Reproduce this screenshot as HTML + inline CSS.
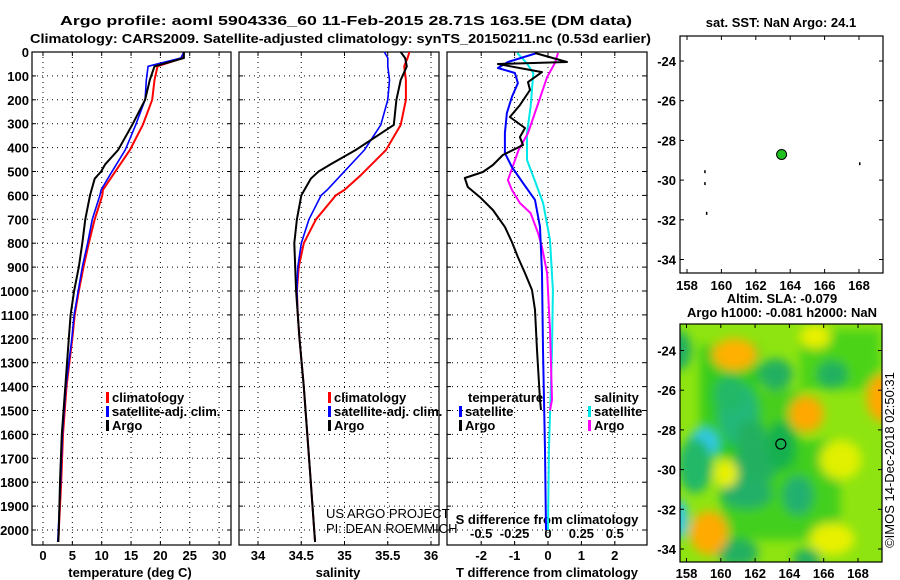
<!DOCTYPE html>
<html><head><meta charset="utf-8"><style>
body{margin:0;background:#fff}
svg{display:block;font-family:"Liberation Sans",sans-serif}
.t{font-weight:bold;font-size:13px}
</style></head><body>
<svg id="s" width="900" height="580" viewBox="0 0 900 580">
<defs>
<clipPath id="c1"><rect x="32" y="52" width="199" height="493"/></clipPath>
<clipPath id="c2"><rect x="239" y="52" width="200" height="493"/></clipPath>
<clipPath id="c3"><rect x="447" y="52" width="200" height="493"/></clipPath>
<clipPath id="cm"><rect x="680" y="324" width="202" height="238"/></clipPath>
<filter id="bl" x="-50%" y="-50%" width="200%" height="200%"><feGaussianBlur stdDeviation="5"/></filter>
</defs>
<text class="t" x="60" y="25" font-size="15" textLength="572" lengthAdjust="spacingAndGlyphs">Argo profile: aoml 5904336_60 11-Feb-2015 28.71S 163.5E (DM data)</text>
<text class="t" x="30" y="43" font-size="15" textLength="621" lengthAdjust="spacingAndGlyphs">Climatology: CARS2009. Satellite-adjusted climatology: synTS_20150211.nc (0.53d earlier)</text>
<g id="g"></g>
</svg>
<script>
// ---- data ----
const depthTicks=[0,100,200,300,400,500,600,700,800,900,1000,1100,1200,1300,1400,1500,1600,1700,1800,1900,2000];
const tTicks=[0,5,10,15,20,25,30];
const sTicks=[34,34.5,35,35.5,36];
const dTTicks=[-2,-1,0,1,2];
const dSTicks=[-0.5,-0.25,0,0.25,0.5];
const lonTicks=[158,160,162,164,166,168];
const latTicks=[-24,-26,-28,-30,-32,-34];
const argoDepth=[0,25,60,117,200,305,410,470,500,530,600,700,800,900,1000,1100,1200,1400,1600,1800,2000,2050];
const argoTemp=[24,24,19,18.2,17.4,15.2,12.8,10.6,9.9,8.8,8.0,7.2,6.7,6.1,5.3,4.7,4.4,3.8,3.2,2.9,2.7,2.6];
const argoSal=[35.65,35.7,35.72,35.65,35.6,35.57,35.13,34.84,34.7,34.61,34.5,34.45,34.42,34.43,34.44,34.46,34.48,34.53,34.57,34.61,34.65,34.66];
const climDepth=[0,25,60,117,200,305,410,515,577,600,700,800,900,1000,1100,1200,1400,1600,1800,2000,2050];
const climTemp=[24,23.8,19.5,19,18.6,17,14.8,11.9,10.2,10.1,8.8,7.8,6.9,6.1,5.4,5.0,4.0,3.4,3.1,2.7,2.6];
const climSal=[35.75,35.73,35.69,35.71,35.71,35.65,35.48,35.19,35.0,34.9,34.67,34.53,34.47,34.45,34.46,34.48,34.53,34.57,34.61,34.65,34.66];
const satTemp=[24,23.5,17.9,17.6,17.4,15.8,14,11.4,9.9,9.7,8.4,7.6,6.7,6.0,5.3,4.9,3.9,3.3,3.0,2.6,2.5];
const satSal=[35.46,35.5,35.5,35.52,35.5,35.42,35.23,34.96,34.8,34.73,34.59,34.5,34.46,34.45,34.46,34.48,34.53,34.57,34.61,34.65,34.66];
const dArgoTDepth=[4,42,50,84,126,159,222,272,318,356,389,431,473,502,527,565,607,661,732,795,858,925,996,1079,1247,1456,1498];
const dArgoT=[-0.39,0.57,-1.5,-0.18,-0.6,-0.54,-0.84,-1.14,-0.69,-0.84,-0.75,-1.35,-1.65,-1.95,-2.49,-2.4,-2.04,-1.65,-1.29,-1.08,-0.9,-0.69,-0.48,-0.39,-0.33,-0.24,-0.21];
const dSatTDepth=[4,42,67,88,130,188,255,339,423,481,548,619,732,925,1247,1665,2000];
const dSatT=[-0.33,-1.2,-1.5,-0.99,-0.9,-1.08,-1.23,-1.29,-1.29,-1.08,-0.75,-0.39,-0.24,-0.18,-0.15,-0.09,-0.06];
const dArgoSDepth=[4,46,105,193,339,410,536,577,632,674,757,816,925,1163,1456,1500];
const dArgoS=[0.075,0.052,-0.007,-0.06,-0.15,-0.22,-0.3,-0.27,-0.21,-0.13,-0.075,-0.045,-0.007,0.015,0.03,0.015];
const dSatSDepth=[4,46,88,230,339,452,536,632,787,996,1247,1665,2000];
const dSatS=[-0.23,-0.16,-0.11,-0.13,-0.157,-0.157,-0.1,-0.037,0.015,0.037,0.03,0.007,0];
const floatLon=[163.5], floatLat=[-28.71];
// SLA blobs: lon, lat, rx(deg), ry(deg), color
const blobLon=[161,159,162,161.5,164.5,163.2,166.5,157.6,157.5,161,165,160.8,165,169.5,159.3,165.5,166.5,160.3,167,163.5,160.5,161.8,158.5];
const blobLat=[-27.2,-28.7,-29.8,-31.2,-31.3,-25.2,-25.2,-32.5,-24,-34.2,-34.5,-24.2,-27.2,-26.4,-33.2,-23.3,-33.5,-30.2,-29.5,-28.8,-26.2,-28.5,-29.8];
const blobRx=[1.2,0.9,1.3,1.5,0.9,1.0,0.9,0.5,0.8,1.2,0.8,1.3,1.0,1.0,1.1,0.9,1.3,0.7,1.2,0.8,0.9,0.9,1.0];
const blobRy=[1.6,0.8,1.0,0.8,1.0,0.8,0.7,1.0,1.0,0.7,0.5,0.8,0.9,1.2,1.1,0.6,0.8,0.7,1.0,1.2,0.9,1.0,1.4];
const blobCol=["#22b878","#30c8e8","#20b060","#20b068","#20b070","#20b060","#20b060","#30c8e8","#20b060","#20b060","#20b060","#ffb000","#ffa800","#ffa800","#ffaa00","#e8f000","#e8f000","#e8f000","#e0f000","#18b050","#20b868","#22b060","#22b868"];

// ---- helpers ----
const NS='http://www.w3.org/2000/svg', G=document.getElementById('g');
function el(t,a,p){const e=document.createElementNS(NS,t);for(const k in a)e.setAttribute(k,a[k]);(p||G).appendChild(e);return e;}
const yD=d=>52+d*0.239;
const xT=v=>43+v*5.87, xS=v=>258+(v-34)*86.5, xDT=v=>548+v*33.4, xDS=v=>548+v*133.6;
const m1x=l=>687+(l-158)*17.2, m1y=l=>61+(-24-l)*19.85;
const m2x=l=>686.5+(l-158)*17.15, m2y=l=>350.5+(-24-l)*19.85;

function panel(x0,w,name){
  const b=el('rect',{x:x0,y:52,width:w,height:493,fill:'none',stroke:'#000','stroke-width':1.2});
  
  
  depthTicks.forEach(d=>{const l=el('line',{x1:x0,x2:x0+w,y1:yD(d),y2:yD(d),stroke:'#000','stroke-dasharray':'1,4','stroke-width':1});
    
    el('line',{x1:x0,x2:x0+4,y1:yD(d),y2:yD(d),stroke:'#000'});el('line',{x1:x0+w-4,x2:x0+w,y1:yD(d),y2:yD(d),stroke:'#000'});});
}
function vgrid(ticks,fx,labY,fmt,name){
  ticks.forEach(v=>{const x=fx(v);
    const l=el('line',{x1:x,x2:x,y1:52,y2:545,stroke:'#000','stroke-dasharray':'1,4'});
    
    el('line',{x1:x,x2:x,y1:545,y2:541,stroke:'#000'});el('line',{x1:x,x2:x,y1:52,y2:56,stroke:'#000'});
    const t=el('text',{x:x,y:labY,'text-anchor':'middle',class:'t'});t.textContent=fmt(v);
    });
}
function line(xs,ds,fx,col,w,clip,name){
  const pts=xs.map((v,i)=>fx(v).toFixed(1)+','+yD(ds[i]).toFixed(1)).join(' ');
  const p=el('polyline',{points:pts,fill:'none',stroke:col,'stroke-width':w,'clip-path':'url(#'+clip+')','stroke-linejoin':'round'});
  
}
function txt(x,y,s,name,extra){const t=el('text',Object.assign({x:x,y:y,class:'t'},extra||{}));t.textContent=s;
  return t;}
function leg(x,y,col,s,name){el('rect',{x:x,y:y-10,width:3,height:11,fill:col});txt(x+6,y,s,name);}

// depth axis labels
depthTicks.forEach(d=>{const t=el('text',{x:29,y:yD(d)+5,'text-anchor':'end',class:'t'});t.textContent=d;
  });

// panel 1 temperature
panel(32,199,'temperature-panel');
vgrid(tTicks,xT,560,v=>v,'temperature');
line(climTemp,climDepth,xT,'#f00',2,'c1','climatology-temperature-line');
line(satTemp,climDepth,xT,'#00f',1.6,'c1','satellite-temperature-line');
line(argoTemp,argoDepth,xT,'#000',2,'c1','argo-temperature-line');
txt(130,577,'temperature (deg C)','temperature-axis-title',{'text-anchor':'middle'});
leg(106,402,'#f00','climatology','legend-climatology');
leg(106,416,'#00f','satellite-adj. clim.','legend-satellite');
leg(106,430,'#000','Argo','legend-argo');

// panel 2 salinity
panel(239,200,'salinity-panel');
vgrid(sTicks,xS,560,v=>v,'salinity');
line(climSal,climDepth,xS,'#f00',2,'c2','climatology-salinity-line');
line(satSal,climDepth,xS,'#00f',1.6,'c2','satellite-salinity-line');
line(argoSal,argoDepth,xS,'#000',2,'c2','argo-salinity-line');
txt(338,577,'salinity','salinity-axis-title',{'text-anchor':'middle'});
leg(328,402,'#f00','climatology','legend-climatology-2');
leg(328,416,'#00f','satellite-adj. clim.','legend-satellite-2');
leg(328,430,'#000','Argo','legend-argo-2');
txt(326,518,'US ARGO PROJECT','credit-project',{style:'font-weight:normal'});
txt(326,533,'PI: DEAN ROEMMICH','credit-pi',{style:'font-weight:normal'});

// panel 3 differences
panel(447,200,'difference-panel');
vgrid(dTTicks,xDT,560,v=>v,'t-difference');
dSTicks.forEach(v=>{const t=el('text',{x:xDS(v),y:538,'text-anchor':'middle',class:'t'});
  t.textContent=(v===0?'0':(v<0?'-':'')+'0'+String(Math.abs(v)).slice(1));
  });
txt(547,524,'S difference from climatology','s-difference-title',{'text-anchor':'middle'});
line(dSatS,dSatSDepth,xDS,'#00e8e8',2,'c3','satellite-salinity-diff-line');
line(dArgoS,dArgoSDepth,xDS,'#f0f',2,'c3','argo-salinity-diff-line');
line(dSatT,dSatTDepth,xDT,'#00f',2,'c3','satellite-temperature-diff-line');
line(dArgoT,dArgoTDepth,xDT,'#000',2,'c3','argo-temperature-diff-line');
txt(547,577,'T difference from climatology','t-difference-title',{'text-anchor':'middle'});
txt(468,402,'temperature','legend-temperature-heading');
txt(594,402,'salinity','legend-salinity-heading');
leg(459,416,'#00f','satellite','legend-t-satellite');
leg(459,430,'#000','Argo','legend-t-argo');
leg(588,416,'#00e8e8','satellite','legend-s-satellite');
leg(588,430,'#f0f','Argo','legend-s-argo');

// map 1
txt(781,27,'sat. SST: NaN Argo: 24.1','sst-map-title',{'text-anchor':'middle'});
const f1=el('rect',{x:680,y:36,width:203,height:237,fill:'#fff',stroke:'#000','stroke-width':1.2});

latTicks.forEach(l=>{el('line',{x1:680,x2:684,y1:m1y(l),y2:m1y(l),stroke:'#000'});el('line',{x1:879,x2:883,y1:m1y(l),y2:m1y(l),stroke:'#000'});
  txt(676,m1y(l)+5,l,'sst-map-lat-label',{'text-anchor':'end'});});
lonTicks.forEach(l=>{el('line',{x1:m1x(l),x2:m1x(l),y1:36,y2:40,stroke:'#000'});el('line',{x1:m1x(l),x2:m1x(l),y1:269,y2:273,stroke:'#000'});
  txt(m1x(l),290,l,'sst-map-lon-label',{'text-anchor':'middle'});});
[[159,-29.5],[159,-30.1],[159.1,-31.6],[168,-29.1]].forEach(p=>el('rect',{x:m1x(p[0]),y:m1y(p[1]),width:1.5,height:3,fill:'#000'}));
floatLon.forEach((l,i)=>{const c=el('circle',{cx:m1x(l),cy:m1y(floatLat[i]),r:5,fill:'#20c020',stroke:'#000'});
  });

// map 2
txt(782,303,'Altim. SLA: -0.079','sla-title',{'text-anchor':'middle'});
txt(782,317,'Argo h1000: -0.081 h2000: NaN','argo-height-title',{'text-anchor':'middle'});
const mg=el('g',{'clip-path':'url(#cm)'});
el('rect',{x:680,y:324,width:202,height:238,fill:'#8ee410'},mg);
const bg=el('g',{filter:'url(#bl)'},mg);
el('rect',{x:700,y:345,width:60,height:110,fill:'#22c622',opacity:0.8},bg);
el('rect',{x:720,y:440,width:120,height:100,fill:'#22c622',opacity:0.7},bg);
el('rect',{x:800,y:330,width:80,height:60,fill:'#30cc20',opacity:0.7},bg);
el('rect',{x:760,y:390,width:40,height:80,fill:'#28c424',opacity:0.7},bg);
blobLon.forEach((l,i)=>{const e=el('ellipse',{cx:m2x(l),cy:m2y(blobLat[i]),rx:blobRx[i]*17.15,ry:blobRy[i]*19.85,fill:blobCol[i]},bg);
  });
const f2=el('rect',{x:680,y:324,width:202,height:238,fill:'none',stroke:'#000','stroke-width':1.2});

latTicks.forEach(l=>{el('line',{x1:680,x2:684,y1:m2y(l),y2:m2y(l),stroke:'#000'});el('line',{x1:878,x2:882,y1:m2y(l),y2:m2y(l),stroke:'#000'});
  txt(676,m2y(l)+5,l,'sla-map-lat-label',{'text-anchor':'end'});});
lonTicks.forEach(l=>{el('line',{x1:m2x(l),x2:m2x(l),y1:324,y2:328,stroke:'#000'});el('line',{x1:m2x(l),x2:m2x(l),y1:558,y2:562,stroke:'#000'});
  txt(m2x(l),578,l,'sla-map-lon-label',{'text-anchor':'middle'});});
floatLon.forEach((l,i)=>{const c=el('circle',{cx:m2x(l),cy:m2y(floatLat[i]),r:5,fill:'none',stroke:'#000','stroke-width':1.2});
  });
txt(894,460,'©IMOS 14-Dec-2018 02:50:31','timestamp',{'text-anchor':'middle',transform:'rotate(-90 894 460)',style:'font-weight:normal'});
</script>
</body></html>
